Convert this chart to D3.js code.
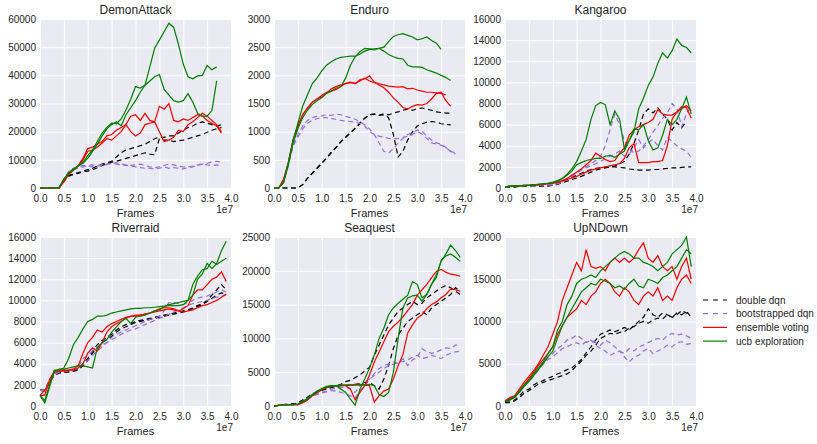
<!DOCTYPE html>
<html><head><meta charset="utf-8">
<script src="https://cdn.jsdelivr.net/npm/d3@7"></script>
<style>body{margin:0;background:#fff}svg{display:block;font-family:"Liberation Sans",Arial,sans-serif}</style>
</head><body><svg id="c" width="817" height="444"></svg>
<script>
// ---------- data ----------
const games = ["DemonAttack","Enduro","Kangaroo","Riverraid","Seaquest","UpNDown"];
const methods = ["double dqn","bootstrapped dqn","ensemble voting","ucb exploration"];
const frameStep = 1e6; // spacing of the samples below (frames)
const xTicks = [0,5e6,1e7,1.5e7,2e7,2.5e7,3e7,3.5e7,4e7];
const yTicksDemonAttack = [0,10000,20000,30000,40000,50000,60000];
const yTicksEnduro = [0,500,1000,1500,2000,2500,3000];
const yTicksKangaroo = [0,2000,4000,6000,8000,10000,12000,14000,16000];
const yTicksRiverraid = [0,2000,4000,6000,8000,10000,12000,14000,16000];
const yTicksSeaquest = [0,5000,10000,15000,20000,25000];
const yTicksUpNDown = [0,5000,10000,15000,20000];

// DemonAttack
const demonDouble = [
 [0,0,0,0,0,2500,4500,5000,5500,6000,6500,7000,7800,8500,9000,9500,11000,12500,13500,14000,14500,15000,15500,16500,17500,18000,18000,18500,18500,19500,20500,21500,22000,23000,23500,23000,22500,22000,22500],
 [0,0,0,0,0,2500,4200,4800,5200,5800,6000,6500,7200,8000,8500,9200,9500,10000,10500,11000,11500,12000,12500,12000,11800,17500,17000,17000,16500,16800,17000,17500,18000,18500,19000,19800,20500,21000,21500]];
const demonBoot = [
 [0,0,0,0,0,3000,5500,6500,7000,7500,8000,8200,8000,8300,8500,8700,8500,8200,8000,7800,7500,7200,7000,7000,6800,7000,7500,7000,7200,7000,6800,7200,7500,8000,8500,8800,9200,9500,9200],
 [0,0,0,0,0,3200,5800,7000,7500,8000,7800,7500,7800,8000,8300,8800,9000,8500,8200,8000,8200,8500,8000,7500,7200,7500,8000,8500,8200,7800,7500,7500,7800,8200,8500,8200,8000,8200,8000]];
const demonVote = [
 [0,0,0,0,0,2500,5000,6500,8000,10500,14000,14500,15500,16500,18500,19000,20500,21500,22500,25500,26000,24000,26500,24000,23500,29000,28000,30000,24000,23500,24500,24000,25000,26000,25500,24000,23000,22000,19500],
 [0,0,0,0,0,2200,4800,6300,7800,10000,13000,13500,14500,16000,17500,17000,18500,20000,22500,20000,18500,19500,22500,23000,23500,20000,16500,17000,18000,20500,20000,22500,23500,25000,26500,25500,24000,22500,20000]];
const demonUcb = [
 [0,0,0,0,200,3000,5200,6500,7800,9200,11500,13500,16500,19500,21500,23000,22800,24500,27700,31500,36000,35500,36500,43000,49600,52500,55500,58500,57000,51000,44000,39500,38800,39800,40000,43500,42000,43000],
 [0,0,0,0,200,3200,5500,6800,7800,8800,10500,13000,15500,18500,21000,22500,23500,22000,26000,28500,31000,34000,36500,38000,39500,40300,35000,33000,31000,30500,31000,33500,30500,26500,25500,25500,27500,38000]];

// Enduro
const enduroDouble = [
 [0,0,0,0,0,0,60,170,260,350,440,530,630,720,820,900,980,1060,1150,1240,1300,1310,1290,1320,1300,1330,1350,1380,1400,1380,1410,1420,1400,1380,1350,1340,1330,1330],
 [0,0,0,0,0,0,60,170,260,350,440,530,630,720,820,900,980,1060,1150,1240,1300,1310,1290,1300,1250,950,550,650,850,1000,1100,1140,1170,1180,1170,1140,1130,1120]];
const enduroBoot = [
 [0,0,100,400,750,950,1100,1200,1250,1270,1280,1300,1290,1310,1300,1270,1250,1220,1180,1120,1050,950,800,650,620,700,800,880,950,980,1030,1010,920,850,800,780,720,650,620],
 [0,0,100,450,750,900,1050,1150,1200,1230,1250,1250,1230,1220,1200,1190,1180,1170,1150,1100,1000,950,920,900,880,870,880,900,920,950,1000,960,880,800,780,760,720,650,600]];
const enduroVote = [
 [0,0,150,450,850,1100,1300,1420,1520,1580,1620,1680,1760,1800,1830,1850,1870,1860,1900,1950,1900,1870,1850,1830,1810,1800,1790,1800,1760,1770,1740,1720,1700,1700,1690,1680,1650],
 [0,0,150,450,850,1100,1300,1420,1520,1580,1640,1700,1720,1750,1800,1860,1880,1850,1920,1940,1990,1880,1830,1780,1700,1600,1520,1430,1400,1450,1480,1470,1500,1580,1680,1700,1550,1450]];
const enduroUcb = [
 [0,0,100,400,800,1050,1250,1380,1480,1550,1600,1680,1720,1770,1800,1950,2180,2330,2420,2480,2470,2450,2480,2500,2600,2690,2720,2740,2710,2680,2630,2650,2680,2620,2570,2460],
 [0,0,100,450,850,1150,1450,1650,1850,1950,2080,2180,2240,2290,2320,2330,2340,2340,2380,2430,2460,2470,2480,2430,2370,2330,2300,2290,2180,2150,2150,2140,2100,2070,2040,2000,1960,1910]];

// Kangaroo
const kangDouble = [
 [100,100,100,150,150,150,200,200,200,200,300,450,600,800,1000,1200,1400,1600,1750,1850,1900,1950,2000,2000,1950,1900,1800,1750,1700,1700,1700,1750,1750,1800,1850,1900,1900,1950,2000,2000],
 [100,100,100,150,150,150,200,200,200,200,250,350,500,650,800,950,1100,1300,1500,1700,1800,1900,2000,2100,2300,2500,3200,4200,5500,7000,7500,7100,7600,7000,6500,5500,6200,5700,6300]];
const kangBoot = [
 [100,150,150,150,200,200,200,250,250,300,300,400,600,900,1200,1500,1800,2000,2300,2600,3000,4000,5500,7000,6000,4500,3800,3300,3500,4000,4600,5300,5900,6600,7100,8000,7500,5800,7000,7800],
 [100,150,150,150,200,200,200,250,250,300,300,400,550,800,1100,1400,1700,1900,2100,2300,2500,2800,3000,3200,3500,3000,3200,3800,4600,3800,4300,4600,4000,3600,4800,4400,4000,3700,3500,2900]];
const kangVote = [
 [100,150,200,200,250,250,300,300,350,400,450,550,700,900,1200,1500,1800,2200,2600,3300,3000,2700,2500,2600,3300,3800,5000,5500,5800,6000,6200,6500,7400,7000,6900,6900,7200,7700,7600,6600],
 [100,150,200,200,250,250,300,300,350,400,450,550,650,800,950,1100,1300,1500,1700,1800,1900,2000,2100,2200,2300,2800,3800,4200,2400,2400,2400,2500,2500,2600,4000,6500,7200,7500,7800,7300]];
const kangUcb = [
 [100,200,150,200,200,250,300,350,400,450,550,700,900,1300,1800,2500,3500,4600,6500,7800,8100,7900,6000,7300,6500,3700,4500,5300,7500,8500,9700,10500,11800,12800,12300,13000,14100,13500,13300,12800],
 [100,150,200,200,250,250,300,350,400,450,500,650,900,1200,1600,2200,2400,2600,2700,2800,2800,3000,3100,2900,3200,3500,4500,5600,5500,6000,4500,3600,3800,5000,6500,6000,6500,7500,8600,7000]];

// Riverraid
const riverDouble = [
 [1500,1500,2500,3000,3200,3200,3300,3300,3500,4000,4500,5200,5800,6200,6500,6800,7200,7500,7700,7800,8000,8100,8200,8300,8400,8500,8600,8700,8800,8900,9000,9100,9300,9500,9700,10000,10500,11000,11500,11000],
 [1500,1400,2200,2900,3100,3200,3200,3300,3400,3800,4300,5000,5500,6000,6300,6600,7000,7300,7500,7700,7900,8000,8100,8200,8300,8400,8500,8600,8700,8800,8900,9000,9200,9400,9600,9900,10200,10500,10700,10600]];
const riverBoot = [
 [1500,1400,2500,3100,3200,3300,3400,3500,3700,4500,4800,5200,5500,5800,6000,6500,6800,7000,7200,7400,7600,7800,8000,8200,8300,8500,9000,9800,9800,9700,9600,9800,10000,10200,10300,10400,10600,10800,11000,10800],
 [1500,1400,2400,3000,3200,3300,3300,3400,3600,4000,4300,4800,5200,5600,6000,6300,6500,6800,7000,7200,7300,7500,7700,7900,8100,8300,8500,8700,8900,9100,9300,9500,9700,9800,9900,10000,10200,10300,10400,10500]];
const riverVote = [
 [1000,1000,2500,3300,3300,3400,3400,3500,3800,5000,6000,6500,7200,7000,7500,7800,8000,8200,8400,8500,8600,8600,8700,8800,8900,9000,9100,9200,9100,9000,9200,9500,10500,11000,11000,11500,12000,12200,12700,11800],
 [1000,1500,2200,3200,3300,3300,3400,3400,3600,4000,5000,5500,5200,6000,7000,7500,7800,8000,8300,8500,8500,8600,8700,8800,9000,9200,9300,9300,9200,9000,8900,9000,9100,9300,9500,9600,9800,10000,10300,10600]];
const riverUcb = [
 [1000,500,2000,3400,3400,3600,4500,5800,6500,7300,8000,8200,8500,8500,8600,8800,8900,9000,9100,9200,9250,9250,9300,9300,9350,9400,9450,9500,9500,9500,9600,10000,11500,12300,12900,13000,13700,13400,13700,14000],
 [1000,300,1800,3300,3500,3500,3600,3700,3800,3800,3700,3600,5500,6000,6300,7000,7500,8000,8300,7800,8400,8500,8600,8800,9000,9100,9400,9600,9700,9800,9900,10000,10500,12000,12500,13500,13000,13500,14700,15600]];

// Seaquest
const seaDouble = [
 [0,100,200,300,300,500,900,1300,1800,2100,2400,2600,2800,3000,3200,3600,3800,4200,4600,5200,5700,7500,9000,10500,12000,13000,14000,14500,15000,15500,15000,15200,16000,16500,17000,17500,17800,17500,17000,16500],
 [0,100,200,200,300,400,800,1200,1700,2000,2300,2500,2700,2900,3000,3000,3100,3200,3300,3500,3500,3000,2500,4000,6000,8500,10500,11500,12500,13000,13500,14000,13500,14500,15000,15500,16000,16500,17500,17000]];
const seaBoot = [
 [0,100,100,200,200,300,700,1100,1500,1800,2000,2200,2500,2600,2700,2800,2500,2000,3000,3500,4000,4800,5500,6000,6200,6500,6300,7000,6000,6800,7200,8500,8000,7800,8000,8300,8600,8500,9000,9000],
 [0,100,100,200,200,300,600,1000,1400,1700,1900,2100,2300,2200,2000,1800,1500,1200,2200,3000,4000,4500,5000,5500,6000,6200,6500,6600,6800,7200,7500,7000,7200,7500,7300,7000,7500,7800,8000,8100]];
const seaVote = [
 [0,100,200,200,200,200,500,900,1500,2000,2400,2700,2900,3000,3000,3000,2500,900,2000,3000,4600,6500,8000,9500,11000,11800,12400,13200,14100,15000,16400,17200,18000,19000,19900,20200,19800,19500,19400,19200],
 [0,100,200,200,200,200,500,900,1500,2000,2400,2700,2900,3000,3100,3100,3100,3200,3200,3100,3000,600,1500,2200,2500,4000,6000,7600,10800,12000,13000,13500,14400,15000,15400,16000,16500,17300,17200,17000]];
const seaUcb = [
 [0,100,200,200,200,300,600,1000,1600,2100,2500,2800,2900,3000,2500,2000,1000,100,2500,4000,5600,7500,10000,11500,13500,14500,15200,15800,16400,18400,18000,16000,16500,18000,19400,21400,22500,23800,23000,22000],
 [0,100,200,200,200,300,700,1100,1700,2200,2600,2900,3000,3000,3100,3100,3100,3100,3100,3100,3200,3000,1700,1400,2000,5000,10000,14500,16000,16300,16400,15500,16500,18000,19000,21500,22200,22500,22000,21400]];

// UpNDown
const upDouble = [
 [500,500,700,1200,1800,2000,2500,2800,3000,3300,3500,3800,4000,4300,4500,5000,5500,6300,7000,7800,8500,8700,9000,8800,9000,9300,9000,9500,10000,10500,11500,10800,10500,11000,10800,10500,11000,10800,11200,10500],
 [400,400,600,1000,1500,1800,2200,2600,2800,3000,3200,3400,3600,3800,4200,4800,5300,6000,6500,7200,8000,8300,8600,8500,8700,8800,9200,9400,9800,10000,9800,10200,10400,10300,10800,10500,10800,11300,11000,11000]];
const upBoot = [
 [500,800,1000,1700,2500,3000,3700,4500,5200,5800,6200,6800,7200,7800,8000,8400,8000,7500,7800,7500,7200,7800,7500,7000,6500,6200,6800,6500,7000,7200,7500,7800,8000,7800,8300,8600,8400,8500,8300,8000],
 [500,700,1000,1600,2400,2900,3500,4300,5000,5500,5800,6300,6800,7000,7300,7500,7200,7600,7800,7200,6800,6500,6000,6300,6500,5800,5200,5800,6000,6500,6800,6200,6500,6800,7200,7000,7500,7600,7300,7400]];
const upVote = [
 [600,1000,1200,2000,2800,3500,4200,5000,6000,7000,8500,10000,12500,14000,15500,17000,16000,18500,16500,16300,16500,16000,17000,17500,17000,17500,17000,17500,18500,19300,17500,17000,17800,16500,16000,16500,15000,16500,17500,15000],
 [600,900,1100,1800,2500,3200,4000,4800,5500,6200,7000,8500,9500,10500,11000,11500,12500,12000,13000,13500,14500,15000,14500,13500,13000,14000,13500,12500,12000,13000,13500,13000,14000,12500,13000,12500,14000,15000,15500,14500]];
const upUcb = [
 [500,800,1100,1700,2500,3000,3800,4500,5200,6200,7000,9000,10000,12000,13000,14500,15000,15200,15500,15200,16000,16500,17000,17500,18000,18300,18000,17500,17500,17000,16800,16500,16000,16500,17000,18000,18500,19000,20000,16500],
 [500,700,1000,1600,2300,2900,3600,4300,5000,5800,6500,8000,9500,10500,11500,12500,13500,14000,14500,14300,15000,14800,14500,14000,14200,13800,14500,15000,14200,14000,15000,14800,14500,15200,15500,16000,16500,17500,18500,18000]];

// ---------- tables built from the arrays ----------
const yTicksByGame = [yTicksDemonAttack,yTicksEnduro,yTicksKangaroo,yTicksRiverraid,yTicksSeaquest,yTicksUpNDown];
const seriesByGame = [
 [demonDouble,demonBoot,demonVote,demonUcb],
 [enduroDouble,enduroBoot,enduroVote,enduroUcb],
 [kangDouble,kangBoot,kangVote,kangUcb],
 [riverDouble,riverBoot,riverVote,riverUcb],
 [seaDouble,seaBoot,seaVote,seaUcb],
 [upDouble,upBoot,upVote,upUcb]];

// ---------- styles ----------
const colors = ["#000000","#9370DB","#FF0000","#008000"];
const dashes = ["5,3.5","5,3.5",null,null];
const colLeft = [40,274,505], rowTop = [19,237], pw = 191, ph = 169;
const txt = "#262626";

const svg = d3.select("#c");
games.forEach((g,gi)=>{
  const ox = colLeft[gi%3], oy = rowTop[Math.floor(gi/3)];
  const yt = yTicksByGame[gi];
  const x = d3.scaleLinear().domain([0,4e7]).range([0,pw]);
  const y = d3.scaleLinear().domain([0,yt[yt.length-1]]).range([ph,0]);
  const p = svg.append("g").attr("transform",`translate(${ox},${oy})`);
  p.append("rect").attr("width",pw).attr("height",ph).attr("fill","#EAEAF2");
  const xa = d3.axisBottom(x).tickValues(xTicks).tickSize(-ph).tickPadding(7).tickFormat(v=>(v/1e7).toFixed(1));
  const ya = d3.axisLeft(y).tickValues(yt).tickSize(-pw).tickPadding(4).tickFormat(d3.format("d"));
  const gx = p.append("g").attr("transform",`translate(0,${ph})`).call(xa);
  const gy = p.append("g").call(ya);
  [gx,gy].forEach(a=>{
    a.select(".domain").remove();
    a.selectAll(".tick line").attr("stroke","#fff").attr("stroke-width",1);
    a.selectAll(".tick text").attr("fill",txt).style("font-size","10px").style("font-family","'Liberation Sans',Arial,sans-serif");
  });
  const clipId = "clip"+gi;
  p.append("clipPath").attr("id",clipId).append("rect").attr("x",-1).attr("y",-1).attr("width",pw+2).attr("height",ph+2);
  const line = d3.line().x((d,i)=>x(i*frameStep)).y(d=>y(d));
  seriesByGame[gi].forEach((runs,mi)=>{
    runs.forEach(r=>{
      p.append("path").attr("d",line(r)).attr("fill","none")
       .attr("stroke",colors[mi]).attr("stroke-width",1.2)
       .attr("stroke-dasharray",dashes[mi]).attr("clip-path",`url(#${clipId})`);
    });
  });
  p.append("text").attr("x",pw/2).attr("y",-5).attr("text-anchor","middle")
   .attr("fill",txt).style("font-size","12px").text(g);
  p.append("text").attr("x",pw/2).attr("y",ph+29).attr("text-anchor","middle")
   .attr("fill",txt).style("font-size","11px").text("Frames");
  p.append("text").attr("x",pw+2).attr("y",ph+25).attr("text-anchor","end")
   .attr("fill",txt).style("font-size","10px").text("1e7");
});

// legend
const lg = svg.append("g").attr("transform","translate(703,300)");
methods.forEach((m,i)=>{
  const r = lg.append("g").attr("transform",`translate(0,${i*13.7})`);
  r.append("line").attr("x1",0).attr("x2",24).attr("y1",0).attr("y2",0)
   .attr("stroke",colors[i]).attr("stroke-width",1.2).attr("stroke-dasharray",dashes[i]?"5,5":null);
  r.append("text").attr("x",33).attr("y",3.5).attr("fill",txt).style("font-size","10px").text(m);
});
</script></body></html>
